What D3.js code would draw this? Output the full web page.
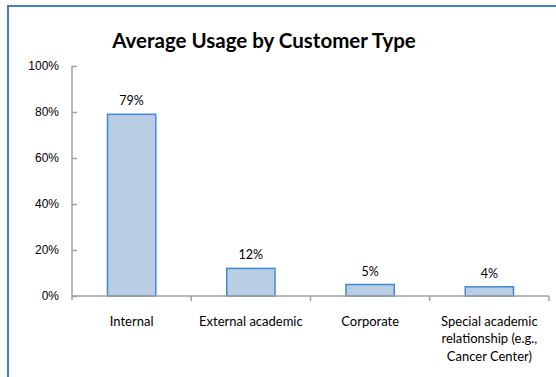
<!DOCTYPE html>
<html>
<head>
<meta charset="utf-8">
<script src="https://cdn.jsdelivr.net/npm/d3@7"></script>
<style>
  html, body { margin: 0; padding: 0; background: #fff; }
  svg { display: block; font-family: Lato, "Open Sans", "Liberation Sans", sans-serif; }
</style>
</head>
<body>
<svg id="chart" width="556" height="377"></svg>
<script>
// Usage share by customer type
const categories = ["Internal", "External academic", "Corporate", "Special academic relationship (e.g., Cancer Center)"];
const categoryLines = [["Internal"], ["External academic"], ["Corporate"], ["Special academic", "relationship (e.g.,", "Cancer Center)"]];
const usage = [0.79, 0.12, 0.05, 0.04];
const valueLabels = ["79%", "12%", "5%", "4%"];
const yTicks = [0, 0.2, 0.4, 0.6, 0.8, 1.0];

const svg = d3.select("#chart");
const W = 556, H = 377;
const plot = { left: 72, right: 549, top: 66, bottom: 296 };

// Outer frame (top and left edges visible)
svg.append("path")
  .attr("d", `M8,${H} L8,6 L${W},6`)
  .attr("fill", "none")
  .attr("stroke", "#4A7EBB")
  .attr("stroke-width", 2);

// Title
svg.append("text")
  .attr("x", 264).attr("y", 48)
  .attr("text-anchor", "middle")
  .attr("font-size", 20.5)
  .attr("font-weight", "bold")
  .attr("fill", "#000")
  .text("Average Usage by Customer Type");

const x = d3.scaleBand().domain(categories).range([plot.left, plot.right]).paddingInner(0).paddingOuter(0);
const y = d3.scaleLinear().domain([0, 1]).range([plot.bottom, plot.top]);

// Y axis: ticks point inward
const yAxis = svg.append("g")
  .attr("transform", `translate(${plot.left},0)`)
  .call(d3.axisLeft(y).tickValues(yTicks).tickFormat(d3.format(".0%")).tickSize(-5).tickPadding(13));
yAxis.select(".domain").attr("stroke", "#A0A0A0").attr("stroke-width", 1.5).attr("d", `M0,${plot.top}V${plot.bottom + 4}`);
yAxis.selectAll(".tick line").attr("stroke", "#A0A0A0").attr("stroke-width", 1.5);
yAxis.selectAll(".tick text").attr("font-size", 12).attr("fill", "#000").attr("font-family", "inherit");

// Bars
const bw = x.bandwidth() * 0.405;
svg.append("g").selectAll("rect")
  .data(usage)
  .join("rect")
  .attr("x", (d, i) => x(categories[i]) + (x.bandwidth() - bw) / 2)
  .attr("y", d => y(d))
  .attr("width", bw)
  .attr("height", d => y(0) - y(d))
  .attr("fill", "#B9CDE5")
  .attr("stroke", "#3F8BD3")
  .attr("stroke-width", 1.5);

// Value labels
svg.append("g").selectAll("text")
  .data(usage)
  .join("text")
  .attr("x", (d, i) => x(categories[i]) + x.bandwidth() / 2)
  .attr("y", d => y(d) - 9)
  .attr("text-anchor", "middle")
  .attr("font-size", 12.5)
  .attr("fill", "#000")
  .text((d, i) => valueLabels[i]);

// X axis with category separators
const xAxis = svg.append("g")
  .attr("transform", `translate(0,${plot.bottom})`)
  .call(d3.axisBottom(x).tickSize(0).tickFormat(""));
xAxis.select(".domain").attr("stroke", "#A0A0A0").attr("stroke-width", 1.5).attr("d", `M${plot.left},0H${plot.right}`);
svg.append("g").selectAll("line")
  .data(categories.slice(1).map(c => x(c)).concat([plot.right]))
  .join("line")
  .attr("x1", d => d).attr("x2", d => d)
  .attr("y1", plot.bottom).attr("y2", plot.bottom + 5)
  .attr("stroke", "#A0A0A0").attr("stroke-width", 1.5);

// Category labels (multi-line)
const catG = svg.append("g").selectAll("text")
  .data(categoryLines)
  .join("text")
  .attr("text-anchor", "middle")
  .attr("font-size", 13)
  .attr("fill", "#000");
catG.each(function(lines, i) {
  const cx = x(categories[i]) + x.bandwidth() / 2;
  d3.select(this).selectAll("tspan")
    .data(lines)
    .join("tspan")
    .attr("x", cx)
    .attr("y", (l, j) => 325.5 + j * 17.8)
    .text(l => l);
});
</script>
</body>
</html>
